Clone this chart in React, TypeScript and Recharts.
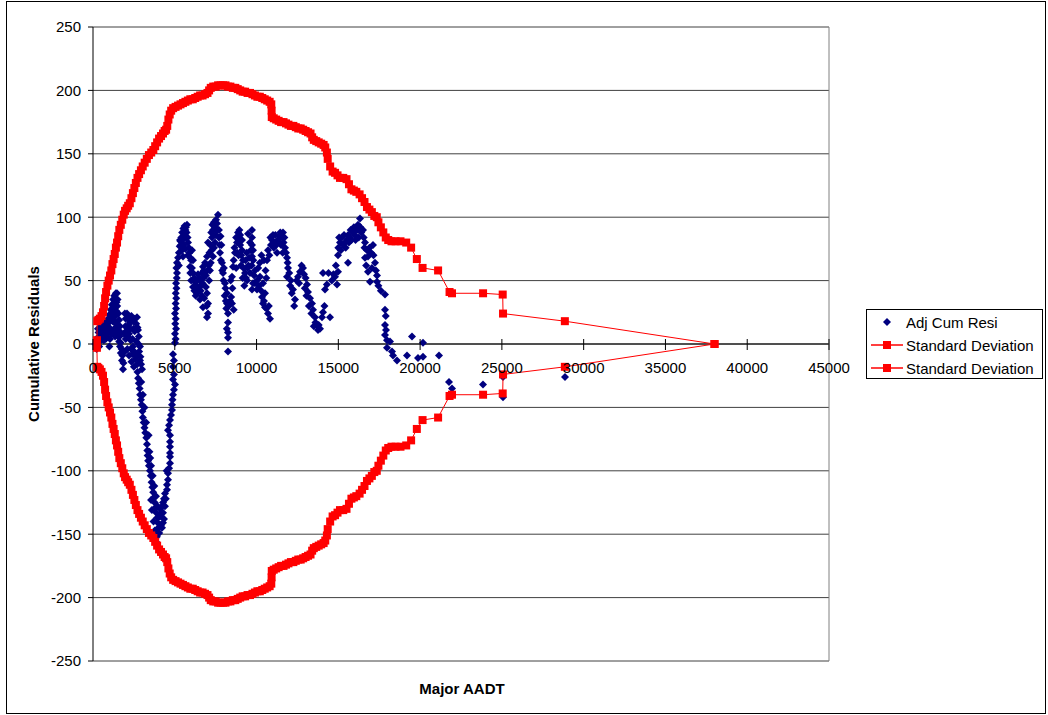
import * as React from 'react';
import { CartesianGrid, ReferenceLine, Scatter, ScatterChart, XAxis, YAxis } from 'recharts';

const xTicks = [0, 5000, 10000, 15000, 20000, 25000, 30000, 35000, 40000, 45000];
const yTicks = [-250, -200, -150, -100, -50, 0, 50, 100, 150, 200, 250];

// Adj Cum Resi: [Major AADT, cumulative residual]
const adjCumResi: [number, number][] = [
  [150, 0], [220, -4], [280, 5], [340, 9], [400, 2], [460, 11], [530, 7], [600, 12], [660, 3], [720, 9],
  [800, 13], [870, 6], [940, 10], [1000, -2], [1040, 4],
  [300, 12], [380, -2], [500, 14], [560, 4], [640, 8], [700, 16], [780, 4], [820, 9], [900, 14], [980, 17],
  [1060, 12], [1100, 21], [1180, 26], [1260, 30], [1330, 33], [1360, 36], [1440, 33], [1390, 29], [1320, 24], [1280, 18],
  [1230, 10], [1350, 6], [1450, 8], [1480, 15], [1560, 10], [1620, 6], [1680, 1], [1750, -4], [1800, -9], [1860, -15],
  [760, 15], [850, 18], [930, 20], [1000, 23], [1080, 27], [1150, 31], [1230, 35], [1300, 38], [1400, 40], [1467, 40],
  [1500, 35], [1480, 30], [1420, 26], [1380, 22], [1345, 17], [1420, 12], [1528, 6], [1600, 2], [1651, -2], [1700, -7],
  [1773, -13], [1834, -20], [1550, 24], [1600, 19], [1650, 14], [1700, 9], [1250, 24], [1200, 18], [1300, 12], [1150, 8],
  [1950, 24], [2000, 20], [2079, 24], [2150, 20], [2262, 17], [2350, 22], [2450, 18], [2550, 20], [2690, 21], [2751, 11],
  [2800, 6], [2874, -2], [2874, -13], [2996, -20], [2446, -2], [2400, -8], [2300, 3], [2200, 8], [2100, 12], [2000, 4],
  [1950, -6], [2100, -4], [2200, -9], [2350, -14], [2500, -18], [2600, -8], [2650, 2], [2550, 10],
  [1900, 8], [1980, 14], [2030, 10], [2130, 6], [2180, 15], [2280, 12], [2330, -4], [2420, 4], [2480, 12], [2520, -6],
  [2580, -12], [2640, 16], [2720, 13], [2780, 0], [2820, -6], [2900, -10], [2940, -16],
  [2650, -10], [2700, -16], [2720, -22], [2760, -27], [2800, -31], [2850, -35], [2880, -40], [2930, -44], [2980, -48], [3020, -53],
  [3050, -58], [3100, -62], [3150, -66], [3200, -70], [3260, -74], [3300, -79], [3320, -84], [3340, -88], [3370, -92], [3420, -96],
  [3480, -100], [3530, -104], [3580, -109], [3630, -113], [3680, -117], [3720, -121], [3770, -125], [3820, -129], [3870, -133], [3920, -137],
  [3960, -141], [4000, -145], [4050, -149], [3900, -152], [3850, -156], [3780, -147], [3700, -140], [3600, -131], [3550, -123],
  [2950, -30], [3050, -40], [3150, -50], [3250, -62], [3400, -72], [3450, -85], [3500, -90], [3550, -96], [3650, -104], [3750, -112],
  [3850, -120], [3950, -128], [4050, -136], [4150, -143], [4100, -130],
  [4891, -8], [4950, -13], [4891, -18], [4950, -24], [4891, -28], [5013, -32], [4950, -36], [4891, -40], [4860, -44], [4830, -48],
  [4830, -52], [4770, -56], [4708, -60], [4650, -64], [4586, -68], [4708, -72], [4708, -77], [4708, -81], [4708, -86], [4708, -89],
  [4708, -94], [4650, -98], [4586, -102], [4586, -107], [4524, -111], [4524, -115], [4402, -118], [4340, -122], [4280, -125], [4220, -128],
  [4200, -133], [4096, -136], [4280, -133], [4340, -138], [4280, -141], [4220, -145], [4400, -128], [4450, -122], [4500, -100],
  [5013, 1], [5050, 4], [5013, 8], [5080, 12], [5030, 16], [5060, 20], [5013, 24], [5080, 28], [5050, 32], [5090, 36],
  [5060, 40], [5100, 44], [5080, 48], [5120, 52], [5136, 56], [5100, 60], [5136, 64],
  [5200, 68], [5250, 72], [5300, 77], [5350, 81], [5400, 84], [5450, 88], [5520, 91], [5600, 93], [5680, 92], [5747, 94],
  [5319, 82], [5442, 74], [5503, 69], [5808, 80], [6053, 74], [6114, 66], [5931, 61], [6114, 56], [6359, 50], [6114, 45],
  [6542, 50], [6664, 56], [6725, 61], [6970, 69], [7031, 80], [7276, 84], [7337, 90], [7581, 95], [7642, 102], [7459, 80],
  [7337, 69], [5600, 86], [5700, 84], [5550, 78], [5650, 75], [5800, 70], [5900, 72], [6000, 66], [5950, 56], [6000, 50],
  [6200, 52], [6250, 46], [6300, 42], [6450, 44], [6600, 46], [6750, 52],
  [5250, 62], [5380, 78], [5480, 82], [5560, 88], [5650, 90], [5720, 88], [5780, 84], [5860, 76], [5950, 68], [6050, 60],
  [6150, 50], [6200, 42], [6280, 38], [6350, 46], [6420, 55], [6500, 52], [6580, 42], [6650, 38], [6700, 48], [6780, 58],
  [6850, 64], [6900, 54], [6950, 30], [7000, 58], [7080, 62], [7120, 72], [7180, 78], [7230, 88], [7300, 94], [7400, 96],
  [7470, 92], [7520, 98], [7600, 90], [7700, 84], [7750, 78], [7820, 66], [7900, 58], [7980, 50], [8050, 38], [8120, 34],
  [8180, 12],
  [7765, 72], [7887, 64], [7950, 56], [8070, 48], [8193, 40], [8193, 32], [8254, 24], [8254, 17], [8254, 9], [8254, 5],
  [8254, -6], [7800, 85], [7700, 90], [7850, 78], [8000, 60], [8100, 44], [8150, 28],
  [6970, 40], [7031, 32], [7031, 24], [6970, 21], [6725, 29], [6542, 35], [6359, 40], [6800, 36], [6900, 45], [7100, 50],
  [7150, 58], [7200, 64], [7250, 74], [7400, 76], [7500, 86], [7550, 91],
  [8499, 32], [8600, 27], [8450, 37], [8499, 53], [8560, 61], [8682, 72], [8804, 80], [8865, 88], [9110, 82], [9110, 74],
  [9171, 66], [9293, 56], [9416, 50], [9477, 87], [9599, 80], [9721, 69], [9905, 48], [10027, 43], [8750, 60], [8900, 70],
  [9000, 78], [9050, 62], [9200, 60], [9350, 52], [9500, 62], [9650, 74], [8950, 90], [9000, 86],
  [8300, 30], [8380, 34], [8420, 50], [8520, 44], [8600, 66], [8650, 76], [8750, 84], [8820, 72], [8900, 82], [9060, 70],
  [9150, 52], [9250, 46], [9320, 66], [9400, 72], [9450, 60], [9550, 68], [9600, 56], [9700, 62], [9800, 66], [9850, 54],
  [9721, 90], [9721, 84], [9721, 78], [9782, 74], [9905, 58], [9782, 48], [9721, 43], [10027, 50], [10210, 53], [10394, 48],
  [10516, 40], [10333, 37], [10394, 32], [10516, 29], [10700, 24], [10822, 20], [10638, 66], [10700, 74], [10944, 82], [11005, 86],
  [11311, 82], [11556, 84], [11617, 88], [11739, 76], [11861, 68], [11922, 60], [11861, 53], [12228, 43], [12350, 35], [12656, 57],
  [12839, 60], [12534, 53], [13084, 47], [13145, 41], [13267, 36], [13390, 32], [13451, 27], [13573, 21], [13695, 15], [13879, 12],
  [13757, 11], [14062, 25], [14001, 21], [14490, 21], [14185, 43], [14062, 56], [14796, 53], [14979, 57], [14918, 47], [14979, 70],
  [15102, 80], [15224, 84], [15407, 80], [15530, 82], [15713, 84], [15896, 88], [16141, 90], [16202, 94], [16324, 99], [16508, 90],
  [15591, 64], [16630, 80], [16752, 74], [16630, 68], [16814, 69], [17119, 78], [16814, 57], [16936, 49], [17364, 54], [17364, 49],
  [17241, 64], [17853, 39], [17853, 27],
  [10100, 60], [10200, 64], [10300, 70], [10450, 66], [10550, 58], [10600, 52], [10880, 78], [11100, 80], [11200, 78], [11400, 85],
  [11500, 78], [11650, 80], [11800, 72], [12000, 56], [12100, 50], [12900, 55], [13000, 52], [13200, 30], [13600, 17], [14300, 47],
  [14600, 50], [15000, 76], [15300, 78], [15600, 86], [15800, 82], [16000, 86], [16400, 88], [16700, 62], [17000, 72],
  [10150, 46], [10280, 42], [10450, 34], [10600, 28], [10750, 30], [10780, 70], [10850, 84], [11050, 76], [11150, 86], [11250, 72],
  [11350, 80], [11450, 88], [11600, 72], [11700, 84], [11900, 64], [12050, 46], [12150, 40], [12300, 30], [12450, 50], [12600, 48],
  [12750, 62], [12950, 44], [13050, 38], [13350, 24], [13500, 14], [13800, 15], [14150, 30], [14400, 56], [14700, 55], [14850, 62],
  [15050, 84], [15150, 74], [15350, 86], [15450, 76], [15650, 80], [15750, 90], [15950, 92], [16050, 82], [16250, 84], [16350, 92],
  [16550, 84], [16600, 76], [16900, 76], [17050, 60], [17150, 70], [17300, 58], [17450, 46], [17600, 42],
  [17853, 15], [17914, 11], [17853, 7], [17975, 3], [18159, 2], [18281, -6], [18342, -9], [18587, -13], [17975, -3], [17900, 22],
  [19198, -9], [19504, 6], [19871, -11], [20176, 1], [20176, -10], [21154, -9], [21766, -30], [21949, -35], [23845, -32], [25067, -42],
  [25067, -26], [28858, -26],
];

// Standard Deviation bands (same AADT for both)
const sdAadt = [
  240, 260, 330, 420, 520, 610, 680, 740, 800, 880,
  960, 1040, 1120, 1190, 1260, 1330, 1400, 1470, 1540, 1610,
  1700, 1790, 1880, 1960, 2060, 2150, 2250, 2350, 2440, 2530,
  2620, 2720, 2820, 2930, 3040, 3160, 3290, 3420, 3560, 3690,
  3800, 3920, 4040, 4160, 4280, 4380, 4470, 4540, 4610, 4690,
  4780, 4900, 5050, 5200, 5350, 5500, 5650, 5800, 5950, 6100,
  6250, 6400, 6550, 6700, 6850, 7000, 7100, 7200, 7350, 7500,
  7650, 7800, 7950, 8100, 8250, 8400, 8550, 8700, 8850, 9000,
  9150, 9300, 9450, 9600, 9750, 9900, 10050, 10200, 10350, 10500,
  10650, 10800, 10900, 10920, 10930, 11050, 11200, 11350, 11500, 11650,
  11800, 11950, 12100, 12250, 12400, 12550, 12700, 12850, 13000, 13150,
  13300, 13400, 13500, 13650, 13800, 13950, 14100, 14200, 14300, 14350,
  14500, 14650, 14800, 14950, 15100, 15300, 15500, 15650, 15800, 15950,
  16100, 16300, 16450, 16600, 16750, 16900, 17050, 17200, 17350, 17450,
  17600, 17750, 17900, 18050, 18250, 18500, 18800, 19150, 19450, 19800,
  20150, 21100, 21800, 21950, 23850, 25050, 25070, 28850, 38000,
];
const sdUpper = [
  3, 18, 19, 20, 22, 25, 30, 36, 41, 46,
  50, 54, 58, 63, 67, 71, 76, 80, 85, 90,
  94, 98, 102, 105, 107, 109, 111, 115, 119, 123,
  127, 131, 134, 137, 140, 143, 146, 149, 151, 153,
  156, 159, 162, 164, 166, 168, 169, 172, 177, 181,
  184, 186, 187, 188, 189, 190, 191, 192, 193, 193,
  194, 195, 196, 196, 197, 198, 200, 202, 203, 203,
  204, 204, 204, 204, 203, 203, 202, 202, 201, 200,
  199, 199, 198, 198, 197, 196, 195, 195, 194, 193,
  192, 191, 189, 184, 179, 178, 177, 176, 175, 175,
  174, 173, 172, 172, 171, 170, 170, 169, 168, 167,
  166, 163, 161, 160, 159, 158, 157, 155, 151, 146,
  140, 136, 135, 133, 131, 131, 130, 126, 122, 121,
  120, 118, 115, 112, 108, 106, 104, 101, 100, 96,
  92, 88, 84, 82, 81, 81, 81, 80, 76, 67,
  60, 58, 41, 40, 40, 39, 24, 18, 0,
];
const sdLower = [
  -3, -18, -19, -20, -22, -25, -30, -36, -41, -46,
  -50, -54, -58, -63, -67, -71, -76, -80, -85, -90,
  -94, -98, -102, -105, -107, -109, -111, -115, -119, -123,
  -127, -131, -134, -137, -140, -143, -146, -149, -151, -153,
  -156, -159, -162, -164, -166, -168, -169, -172, -177, -181,
  -184, -186, -187, -188, -189, -190, -191, -192, -193, -193,
  -194, -195, -196, -196, -197, -198, -200, -202, -203, -203,
  -204, -204, -204, -204, -203, -203, -202, -202, -201, -200,
  -199, -199, -198, -198, -197, -196, -195, -195, -194, -193,
  -192, -191, -189, -184, -179, -178, -177, -176, -175, -175,
  -174, -173, -172, -172, -171, -170, -170, -169, -168, -167,
  -166, -163, -161, -160, -159, -158, -157, -155, -151, -146,
  -140, -136, -135, -133, -131, -131, -130, -126, -122, -121,
  -120, -118, -115, -112, -108, -106, -104, -101, -100, -96,
  -92, -88, -84, -82, -81, -81, -81, -80, -76, -67,
  -60, -58, -41, -40, -40, -39, -24, -18, 0,
];

const residData = adjCumResi.map(([x, y]) => ({ x, y }));
const upperData = sdAadt.map((x, i) => ({ x, y: sdUpper[i] }));
const lowerData = sdAadt.map((x, i) => ({ x, y: sdLower[i] }));

const FONT = "'Liberation Sans', Arial, sans-serif";
const NAVY = '#000080';
const RED = '#FF0000';

const W = 1048;
const H = 715;
const PLOT_LEFT = 93;
const PLOT_RIGHT = 829;
const PLOT_TOP = 27;
const PLOT_BOTTOM = 661;
const X_AXIS_H = 30;
const ZERO_Y = PLOT_TOP + (PLOT_BOTTOM - PLOT_TOP) * 0.5;

const Diamond = (p: any) => (
  <path d={`M${p.cx},${p.cy - 4}L${p.cx + 4},${p.cy}L${p.cx},${p.cy + 4}L${p.cx - 4},${p.cy}Z`} fill={NAVY} />
);
const Square = (p: any) => <rect x={p.cx - 4} y={p.cy - 4} width={8} height={8} fill={RED} />;

// x ticks sit on the zero line, not at the bottom of the plot
const XTick = (p: any) => (
  <g>
    <line x1={p.x} x2={p.x} y1={ZERO_Y - 5} y2={ZERO_Y + 6} stroke="#000" />
    <text x={p.x} y={ZERO_Y + 29} textAnchor="middle" fontSize={15} fontFamily={FONT} fill="#000">
      {p.payload.value}
    </text>
  </g>
);

const legendRows = [
  { name: 'Adj Cum Resi', kind: 'diamond' },
  { name: 'Standard Deviation', kind: 'line' },
  { name: 'Standard Deviation', kind: 'line' },
];

export default function App() {
  return (
    <div style={{ position: 'absolute', left: 0, top: 0, width: W, height: H, background: '#fff', fontFamily: FONT }}>
      <div style={{ position: 'absolute', left: 6, top: 1, width: 1040, height: 713, border: '1px solid #000', boxSizing: 'border-box' }} />
      <div style={{ position: 'absolute', left: 0, top: 0 }}>
        <ScatterChart
          width={W}
          height={H}
          margin={{ top: PLOT_TOP, right: W - PLOT_RIGHT, bottom: H - PLOT_BOTTOM - X_AXIS_H, left: 0 }}
        >
          <CartesianGrid vertical={false} stroke="#404040" />
          <XAxis
            type="number"
            dataKey="x"
            domain={[0, 45000]}
            ticks={xTicks}
            interval={0}
            height={X_AXIS_H}
            axisLine={false}
            tickLine={false}
            tick={XTick}
          />
          <YAxis
            type="number"
            dataKey="y"
            domain={[-250, 250]}
            ticks={yTicks}
            interval={0}
            width={PLOT_LEFT}
            axisLine={{ stroke: '#000' }}
            tickLine={{ stroke: '#000' }}
            tickSize={5}
            tickMargin={7}
            tick={{ fill: '#000', fontSize: 15, fontFamily: FONT }}
          />
          <ReferenceLine y={0} stroke="#000" />
          <ReferenceLine x={45000} stroke="#808080" />
          <Scatter name="Adj Cum Resi" data={residData} shape={Diamond} isAnimationActive={false} />
          <Scatter
            name="Standard Deviation"
            data={upperData}
            shape={Square}
            line={{ stroke: RED, strokeWidth: 1 }}
            lineType="joint"
            isAnimationActive={false}
          />
          <Scatter
            name="Standard Deviation"
            data={lowerData}
            shape={Square}
            line={{ stroke: RED, strokeWidth: 1 }}
            lineType="joint"
            isAnimationActive={false}
          />
        </ScatterChart>
      </div>
      <div
        style={{
          position: 'absolute', left: 33, top: ZERO_Y, transform: 'translate(-50%, -50%) rotate(-90deg)',
          whiteSpace: 'nowrap', fontWeight: 'bold', fontSize: 15, lineHeight: '15px',
        }}
      >
        Cumulative Residuals
      </div>
      <div
        style={{
          position: 'absolute', left: 462, top: 688, transform: 'translate(-50%, -50%)',
          whiteSpace: 'nowrap', fontWeight: 'bold', fontSize: 15, lineHeight: '15px',
        }}
      >
        Major AADT
      </div>
      <div
        style={{
          position: 'absolute', left: 866, top: 309, width: 177, height: 70,
          border: '1px solid #000', boxSizing: 'border-box', background: '#fff',
        }}
      >
        {legendRows.map((r, i) => (
          <div key={i} style={{ position: 'absolute', left: 4, top: 3 + i * 23, height: 18, display: 'flex', alignItems: 'center' }}>
            <svg width={32} height={12} style={{ marginRight: 3 }}>
              {r.kind === 'diamond' ? (
                <path d="M16,2L20,6L16,10L12,6Z" fill={NAVY} />
              ) : (
                <g>
                  <line x1={0} x2={32} y1={6} y2={6} stroke={RED} strokeWidth={1.5} />
                  <rect x={12} y={2} width={8} height={8} fill={RED} />
                </g>
              )}
            </svg>
            <span style={{ fontSize: 15, whiteSpace: 'nowrap' }}>{r.name}</span>
          </div>
        ))}
      </div>
    </div>
  );
}
